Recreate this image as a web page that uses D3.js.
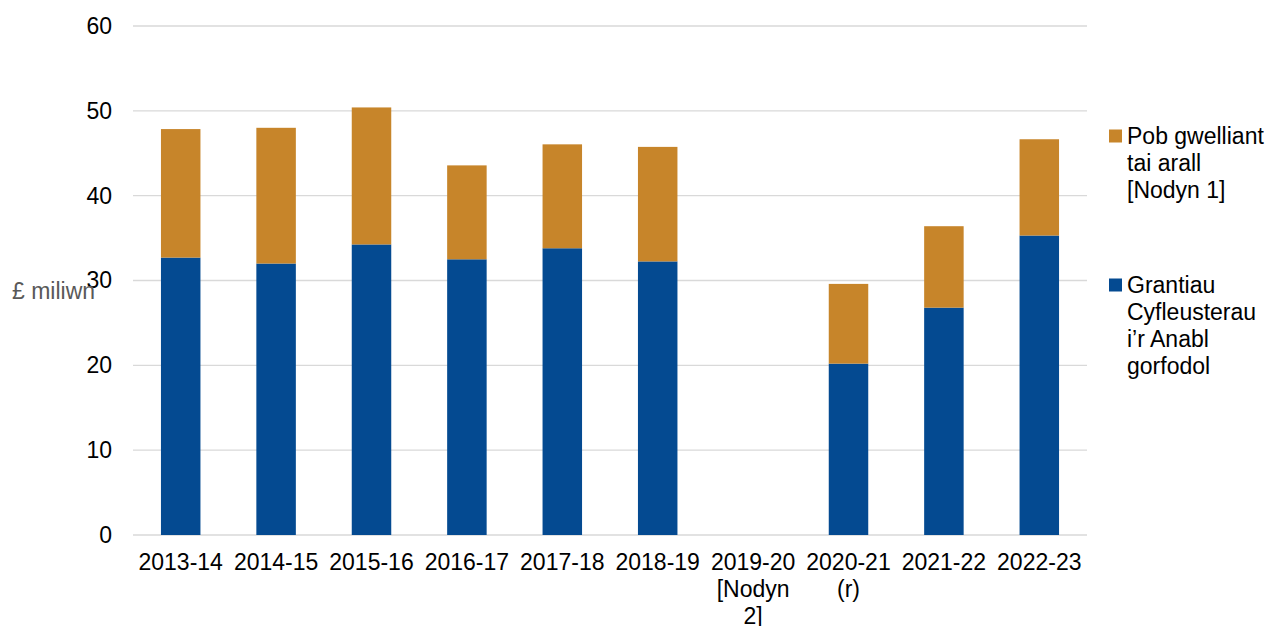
<!DOCTYPE html>
<html>
<head>
<meta charset="utf-8">
<script src="https://cdn.jsdelivr.net/npm/d3@7"></script>
<style>
  body { margin: 0; background: #fff; }
  svg { font-family: "Liberation Sans", Arial, sans-serif; }
</style>
</head>
<body>
<div id="chart"></div>
<script>
// data
var years = ["2013-14", "2014-15", "2015-16", "2016-17", "2017-18", "2018-19",
             "2019-20 [Nodyn 2]", "2020-21 (r)", "2021-22", "2022-23"];
var grants = [32.7, 32.0, 34.25, 32.5, 33.8, 32.25, null, 20.2, 26.8, 35.3];
var other  = [15.15, 16.0, 16.15, 11.07, 12.25, 13.5, null, 9.4, 9.6, 11.35];
var seriesNames = ["Grantiau Cyfleusterau i’r Anabl gorfodol", "Pob gwelliant tai arall [Nodyn 1]"];
var seriesColors = ["#044A91", "#C7852A"];
var yTicks = [0, 10, 20, 30, 40, 50, 60];
var yLabel = "£ miliwn";

var W = 1268, H = 626;
var margin = {top: 26, left: 133, right: 181, bottom: 91};
var fontSize = 23, lineH = 27;

var svg = d3.select("#chart").append("svg")
  .attr("width", W).attr("height", H);

var x = d3.scaleBand()
  .domain(years)
  .range([margin.left, W - margin.right])
  .paddingInner(0.586)
  .paddingOuter(0.293);

var y = d3.scaleLinear()
  .domain([0, 60])
  .range([H - margin.bottom, margin.top]);

// wraps text into lines no wider than maxW
function wrap(sel, maxW) {
  sel.each(function() {
    var t = d3.select(this), words = t.text().split(" "), line = [], n = 0;
    var xx = t.attr("x");
    t.text(null);
    var ts = t.append("tspan").attr("x", xx).attr("dy", 0);
    words.forEach(function(w) {
      line.push(w);
      ts.text(line.join(" "));
      if (ts.node().getComputedTextLength() > maxW && line.length > 1) {
        line.pop();
        ts.text(line.join(" "));
        line = [w];
        n++;
        ts = t.append("tspan").attr("x", xx).attr("dy", lineH).text(w);
      }
    });
  });
}

// gridlines
svg.append("g").selectAll("line")
  .data(yTicks)
  .join("line")
  .attr("x1", margin.left).attr("x2", W - margin.right)
  .attr("y1", function(d) { return y(d); }).attr("y2", function(d) { return y(d); })
  .style("stroke", "#D9D9D9").style("stroke-width", 1.3);

// stacked bars
var rows = years.map(function(yr, i) { return {year: yr, g: grants[i], o: other[i]}; })
  .filter(function(d) { return d.g != null; });
var stack = d3.stack().keys(["g", "o"])(rows);

svg.append("g").selectAll("g")
  .data(stack)
  .join("g")
  .style("fill", function(d, i) { return seriesColors[i]; })
  .selectAll("rect")
  .data(function(d) { return d; })
  .join("rect")
  .attr("x", function(d) { return x(d.data.year); })
  .attr("width", x.bandwidth())
  .attr("y", function(d) { return y(d[1]); })
  .attr("height", function(d) { return y(d[0]) - y(d[1]); });

// y axis labels
var yAxis = d3.axisLeft(y).tickValues(yTicks).tickSize(0).tickPadding(21);
var ga = svg.append("g")
  .attr("transform", "translate(" + margin.left + ",0)")
  .call(yAxis);
ga.select(".domain").remove();
ga.selectAll("text").style("font-size", fontSize + "px").style("fill", "#000")
  .style("font-family", "Liberation Sans, Arial, sans-serif");

svg.append("text")
  .attr("x", 12).attr("y", 299)
  .style("font-size", fontSize + "px").style("fill", "#595959")
  .text(yLabel);

// x axis labels
svg.append("g").selectAll("text")
  .data(years)
  .join("text")
  .attr("x", function(d) { return x(d) + x.bandwidth() / 2; })
  .attr("y", 570)
  .attr("text-anchor", "middle")
  .style("font-size", fontSize + "px")
  .text(function(d) { return d; })
  .call(wrap, x.step());

// legend (top entry is the upper series)
var legendY = [136, 285];
var leg = svg.append("g").selectAll("g")
  .data([1, 0])
  .join("g")
  .attr("transform", function(d, i) { return "translate(1109," + legendY[i] + ")"; });
leg.append("rect")
  .attr("x", 0).attr("y", -6.5).attr("width", 13).attr("height", 13)
  .style("fill", function(d) { return seriesColors[d]; });
leg.append("text")
  .attr("x", 18).attr("y", 8)
  .style("font-size", fontSize + "px")
  .text(function(d) { return seriesNames[d]; })
  .call(wrap, 142);
</script>
</body>
</html>
